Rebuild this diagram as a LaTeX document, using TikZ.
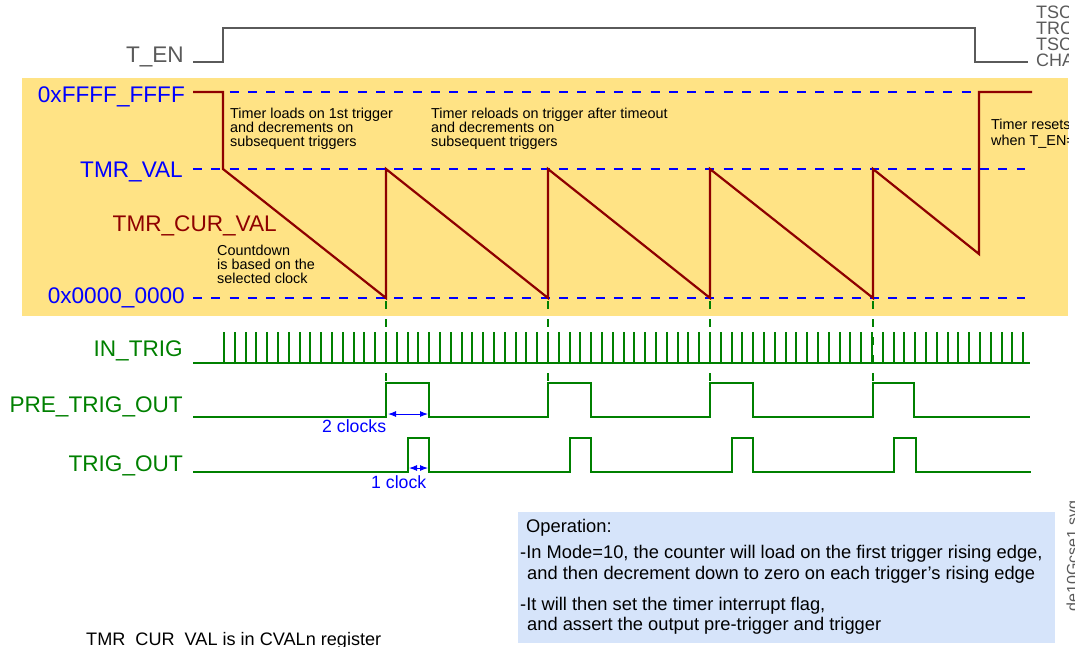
\documentclass[tikz,border=0pt]{standalone}
\usepackage{fontspec}
\setmainfont{Liberation Sans}
\usetikzlibrary{arrows.meta}
\definecolor{bandyellow}{HTML}{FFE385}
\definecolor{opblue}{HTML}{D6E4FA}
\definecolor{sigred}{HTML}{8E0000}
\definecolor{siggreen}{HTML}{008000}
\definecolor{lvlblue}{HTML}{0000FF}
\definecolor{engray}{HTML}{5A5A5A}
\tikzset{
  lbl/.style={anchor=base east, inner sep=0pt, font=\fontsize{22.6}{24}\selectfont},
  note/.style={anchor=base west, inner sep=0pt, text=black, font=\fontsize{14.4}{16}\selectfont},
  optext/.style={anchor=base west, inner sep=0pt, text=black, font=\fontsize{18.3}{20}\selectfont},
  graytext/.style={inner sep=0pt, text=engray, font=\fontsize{18}{18}\selectfont},
  wave/.style={line width=2.2pt, siggreen},
  pulse/.style={line width=2pt, siggreen},
  redwave/.style={line width=2.2pt, sigred},
  lvl/.style={line width=2.2pt, lvlblue, dash pattern=on 9pt off 9.3pt},
  vguide/.style={line width=2pt, siggreen, dash pattern=on 8pt off 10pt},
  clk/.style={lvlblue, line width=1pt, {Latex[length=8pt,width=6pt]}-{Latex[length=8pt,width=6pt]}},
  clktext/.style={anchor=base west, inner sep=0pt, text=lvlblue, font=\fontsize{17.7}{20}\selectfont},
}
\begin{document}
\begin{tikzpicture}[x=1pt,y=-1pt]
\useasboundingbox (0,0) rectangle (1075,646);
% yellow band
\fill[bandyellow] (22,78) rectangle (1068,316);
% clipped right-hand texts
\begin{scope}
  \clip (0,0) rectangle (1068,330);
  \node[graytext, anchor=base west] (tsca) at (1036,18) {TSC};
  \node[graytext, anchor=base west] (trc)  at (1036,34) {TRC};
  \node[graytext, anchor=base west] (tscb) at (1036,50) {TSC};
  \node[graytext, anchor=base west] (cha)  at (1036,66) {CHA};
  \node[note] (rst1) at (991,129) {Timer resets};
  \node[note] (rst2) at (991,145) {when T\_EN=0};
\end{scope}
% labels
\node[lbl, text=engray] (ten) at (184,62) {T\_EN};
\node[lbl, text=lvlblue] (ffff) at (185,102) {0xFFFF\_FFFF};
\node[lbl, text=lvlblue] (tmrval) at (183,177) {TMR\_VAL};
\node[lbl, text=sigred] (tmrcur) at (277,231) {TMR\_CUR\_VAL};
\node[lbl, text=lvlblue] (zero) at (185,303) {0x0000\_0000};
\node[lbl, text=siggreen] (intrig) at (183,356) {IN\_TRIG};
\node[lbl, text=siggreen] (pretrig) at (183,412) {PRE\_TRIG\_OUT};
\node[lbl, text=siggreen] (trigout) at (183,471) {TRIG\_OUT};
% notes
\node[note] (n1a) at (230,118) {Timer loads on 1st trigger};
\node[note] (n1b) at (230,132) {and decrements on};
\node[note] (n1c) at (230,146) {subsequent triggers};
\node[note] (n2a) at (431,118) {Timer reloads on trigger after timeout};
\node[note] (n2b) at (431,132) {and decrements on};
\node[note] (n2c) at (431,146) {subsequent triggers};
\node[note] (n3a) at (217,255) {Countdown};
\node[note] (n3b) at (217,269) {is based on the};
\node[note] (n3c) at (217,283) {selected clock};
% T_EN waveform
\draw[engray, line width=2pt] (193,62) -- (223,62) -- (223,28) -- (975,28) -- (975,62) -- (1028,62);
% level lines
\draw[lvl] (193,92) -- (1025,92);
\draw[lvl] (193,169) -- (1025,169);
\draw[lvl] (193,298) -- (1025,298);
% counter value
\draw[redwave] (193,92) -- (223,92) -- (223,169) -- (386,298) -- (386,169) -- (548,298) -- (548,169)
  -- (710,298) -- (710,169) -- (873,298) -- (873,169) -- (979,254) -- (979,92) -- (1032,92);
% guides
\foreach \x in {386,548,710,873} \draw[vguide] (\x,301) -- (\x,383);
% IN_TRIG
\draw[wave] (193,363) -- (1030,363);
\foreach \i in {0,...,74} \draw[pulse] ({224+10.8*\i},364) -- ({224+10.8*\i},332);
% PRE_TRIG_OUT
\draw[wave] (193,417) -- (386,417) -- (386,383) -- (429,383) -- (429,417) -- (548,417) -- (548,383)
  -- (591,383) -- (591,417) -- (710,417) -- (710,383) -- (753,383) -- (753,417) -- (873,417)
  -- (873,383) -- (914,383) -- (914,417) -- (1030,417);
% TRIG_OUT
\draw[wave] (193,472) -- (408,472) -- (408,438) -- (429,438) -- (429,472) -- (570,472) -- (570,438)
  -- (591,438) -- (591,472) -- (732,472) -- (732,438) -- (753,438) -- (753,472) -- (894,472)
  -- (894,438) -- (916,438) -- (916,472) -- (1031,472);
% clock arrows
\coordinate (c2a) at (388,414);
\coordinate (c2b) at (428,414);
\coordinate (c1a) at (409,468);
\coordinate (c1b) at (428,468);
\draw[clk] (c2a) -- (c2b);
\draw[clk] (c1a) -- (c1b);
\node[clktext] (twoclk) at (322,432) {2 clocks};
\node[clktext] (oneclk) at (371,488) {1 clock};
% operation box
\fill[opblue] (518,512) rectangle (1055,643);
\node[optext] (op0) at (526,532) {Operation:};
\node[optext] (op1) at (520,558) {-In Mode=10, the counter will load on the first trigger rising edge,};
\node[optext] (op2) at (527,579) {and then decrement down to zero on each trigger's rising edge};
\node[optext] (op3) at (520,610) {-It will then set the timer interrupt flag,};
\node[optext] (op4) at (527,630) {and assert the output pre-trigger and trigger};
% footer
\node[optext, font=\fontsize{18.1}{20}\selectfont] (foot) at (86,645) {TMR\_CUR\_VAL is in CVALn register};
\node[graytext, anchor=base east, rotate=90, font=\fontsize{16}{16}\selectfont] (svg) at (1078,500) {de10Gcse1.svg};
\end{tikzpicture}
\end{document}
